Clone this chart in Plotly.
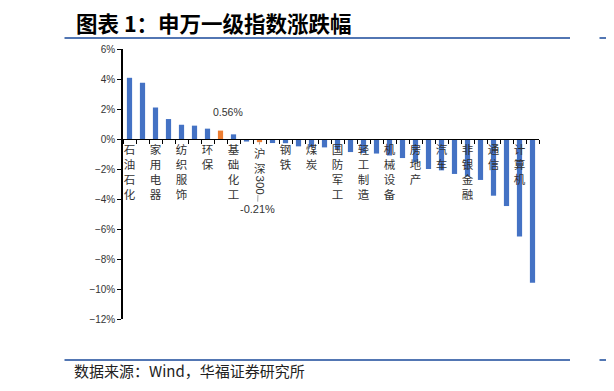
import plotly.graph_objects as go

# ---------------- data ----------------
categories = [
    "石油石化", "银行", "家用电器", "公用事业", "纺织服饰", "交通运输", "环保", "上证指数",
    "基础化工", "建筑装饰", "沪深300", "食品饮料", "钢铁", "有色金属", "煤炭", "农林牧渔",
    "国防军工", "建筑材料", "轻工制造", "医药生物", "机械设备", "商贸零售", "房地产", "社会服务",
    "汽车", "美容护理", "非银金融", "电力设备", "通信", "电子", "计算机", "传媒",
]
values = [
    4.08, 3.75, 2.10, 1.33, 0.95, 0.89, 0.69, 0.56,
    0.31, -0.17, -0.21, -0.27, -0.28, -0.49, -0.53, -0.56,
    -0.67, -0.87, -0.93, -0.97, -1.10, -1.27, -1.54, -2.00,
    -2.09, -2.33, -2.50, -2.73, -3.78, -4.47, -6.50, -9.58,
]
highlight = ["上证指数", "沪深300"]
shown_labels = [
    "石油石化", "家用电器", "纺织服饰", "环保", "基础化工", "钢铁", "煤炭", "国防军工",
    "轻工制造", "机械设备", "房地产", "汽车", "非银金融", "通信", "计算机",
]
y_ticks = [6, 4, 2, 0, -2, -4, -6, -8, -10, -12]

# ---------------- geometry helpers ----------------
OFF = 8  # page body margin of the browser
W, H = 614 - OFF, 391 - OFF
L, R, T, B = 123 - OFF, 75, 49 - OFF, 72
PW, PH = W - L - R, H - T - B


def px2x(px):
    return (px - OFF - L) / PW


def py2y(py):
    return (H - B - (py - OFF)) / PH


BLUE = "#4472C4"
ORANGE = "#ED7D31"
LINE_BLUE = "#1A4A9A"
CJK = "Noto Sans CJK SC"
LAT = "Liberation Sans, Arial"

colors = [ORANGE if c in highlight else BLUE for c in categories]
ticktext = ["<br>".join(list(c)) if c in shown_labels else "" for c in categories]

fig = go.Figure()
fig.add_trace(go.Bar(x=categories, y=values, marker=dict(color=colors, line=dict(width=0)),
                     hoverinfo="x+y"))

ymin, ymax = min(y_ticks), max(y_ticks)
fig.update_layout(
    width=W, height=H,
    margin=dict(l=L, r=R, t=T, b=B, pad=0),
    paper_bgcolor="white", plot_bgcolor="white",
    showlegend=False, bargap=0.6,
    xaxis=dict(
        type="category", categoryorder="array", categoryarray=categories,
        tickmode="array", tickvals=categories, ticktext=ticktext,
        tickangle=0, tickson="boundaries", ticks="outside", ticklen=4,
        tickcolor="black", tickwidth=1,
        showline=True, linecolor="black", linewidth=1.3,
        showgrid=False, zeroline=False,
        anchor="free", position=(0 - ymin) / (ymax - ymin),
        tickfont=dict(family=CJK, size=11.5, color="#333333"),
    ),
    yaxis=dict(
        range=[ymin, ymax], tickmode="array", tickvals=y_ticks,
        ticktext=[("−" if v < 0 else "") + f"{abs(v)}%" for v in y_ticks],
        ticks="outside", ticklen=4, tickcolor="black", tickwidth=1.3,
        showline=True, linecolor="black", linewidth=1.5,
        showgrid=False, zeroline=False,
        tickfont=dict(family=LAT, size=10, color="#333333"),
    ),
)

# data labels (leader line first, label on top)
fig.add_annotation(x="沪深300", y=-0.21, xref="x", yref="y", text="-0.21%",
                   showarrow=True, arrowhead=0, arrowcolor="#A6A6A6", arrowwidth=1,
                   ax=-2, ay=67, font=dict(family=LAT, size=11, color="#333333"))
fig.add_annotation(x="沪深300", y=py2y(160), xref="x", yref="paper", yanchor="middle",
                   text="沪<br>深", showarrow=False, bgcolor="white", borderpad=0,
                   font=dict(family=CJK, size=11.5, color="#333333"))
fig.add_annotation(x="沪深300", y=py2y(185), xref="x", yref="paper", yanchor="middle",
                   text="300", textangle=90, showarrow=False, bgcolor="white", borderpad=0,
                   font=dict(family=LAT, size=11.5, color="#333333"))
fig.add_annotation(x="上证指数", y=0.56, xref="x", yref="y", yanchor="bottom", yshift=11, xshift=7,
                   text="0.56%", showarrow=False,
                   font=dict(family=LAT, size=10.5, color="#333333"))

# title and source
fig.add_annotation(x=px2x(74), y=py2y(23), xref="paper", yref="paper", xanchor="left", yanchor="middle",
                   text="<b>图表 1：申万一级指数涨跌幅</b>", showarrow=False,
                   font=dict(family=CJK, size=21.5, color="black"))
fig.add_annotation(x=px2x(72), y=py2y(370), xref="paper", yref="paper", xanchor="left", yanchor="middle",
                   text="数据来源：Wind，华福证券研究所", showarrow=False,
                   font=dict(family=CJK, size=15, color="#222222"))
# fragments of the neighbouring chart (cut by the page edge)
fig.add_annotation(x=px2x(608), y=py2y(23), xref="paper", yref="paper", xanchor="left", yanchor="middle",
                   text="<b>图</b>", showarrow=False, font=dict(family=CJK, size=21.5, color="black"))
fig.add_annotation(x=px2x(605), y=py2y(370), xref="paper", yref="paper", xanchor="left", yanchor="middle",
                   text="数", showarrow=False, font=dict(family=CJK, size=15, color="#222222"))

# rules above and below the chart
for yy in (38, 360):
    for x0, x1 in ((63, 570), (598, 622)):
        fig.add_annotation(x=px2x(x1), y=py2y(yy), xref="paper", yref="paper", text="",
                           showarrow=True, arrowhead=0, arrowwidth=1.6, arrowcolor=LINE_BLUE,
                           axref="pixel", ayref="pixel", ax=-(x1 - x0), ay=0, standoff=0,
                           startstandoff=0)

fig.write_html("out.html")
